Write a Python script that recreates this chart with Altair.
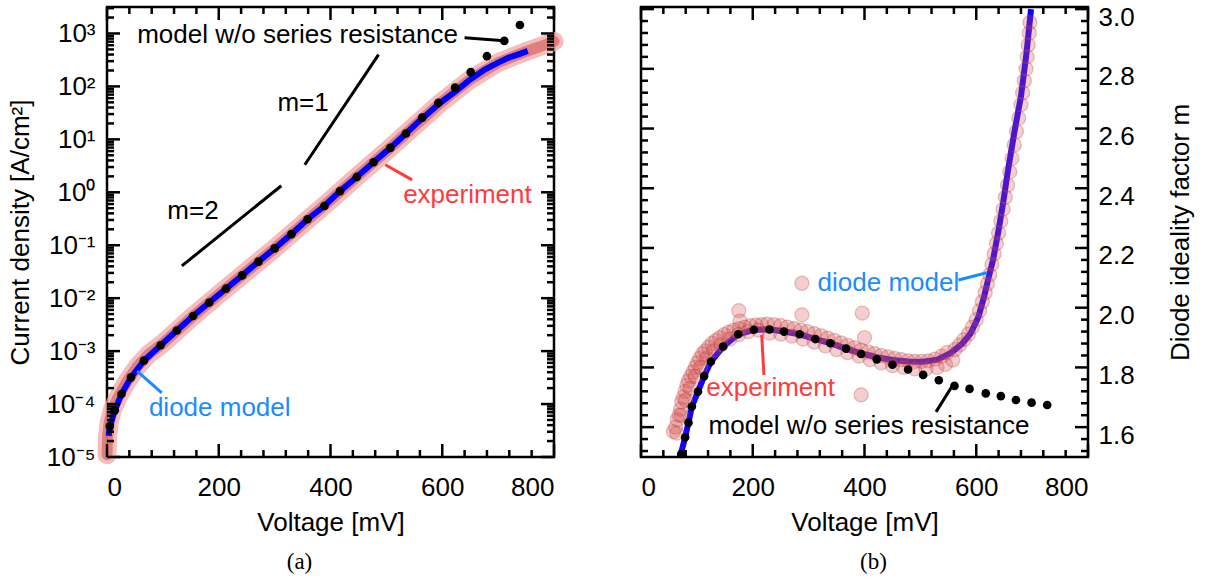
import altair as alt
import pandas as pd

# ---------------- panel (a): J-V curve ----------------
a_dot_v = [5, 14, 26, 43, 66, 96, 125, 154, 183, 213, 242, 271, 300, 330, 359, 389, 417,
           447, 477, 507, 535, 564, 593, 623, 651, 680, 711, 739]
a_dot_j = [3.8e-5, 7.6e-5, 1.55e-4, 3.2e-4, 6.6e-4, 1.29e-3, 2.45e-3, 4.6e-3, 8.3e-3,
           1.51e-2, 2.7e-2, 4.9e-2, 8.7e-2, 0.162, 0.31, 0.55, 1.05, 1.95, 3.7, 6.9, 12.9,
           25.7, 49, 95, 186, 372, 724, 1445]

a_model_v = [3, 5, 14, 26, 43, 66, 96, 125, 154, 183, 213, 242, 271, 300, 330, 359, 389,
             417, 447, 477, 507, 535, 557, 580, 600, 622, 650, 676, 700, 718, 740, 753]
a_model_j = [2.5e-5, 3.8e-5, 7.6e-5, 1.55e-4, 3.2e-4, 6.6e-4, 1.29e-3, 2.45e-3, 4.6e-3,
             8.3e-3, 1.51e-2, 2.7e-2, 4.9e-2, 8.7e-2, 0.162, 0.31, 0.55, 1.05, 1.95, 3.7,
             6.9, 12.9, 21.4, 34.7, 52.5, 77.6, 135, 209, 282, 347, 417, 468]

a_exp_v = [0, 1, 4, 10, 20, 35, 55, 75, 100, 150, 200, 250, 300, 350, 400, 450, 500,
           550, 600, 650, 700, 750, 780, 800]
a_exp_j = [1.1e-5, 2.4e-5, 4.6e-5, 8.0e-5, 1.35e-4, 2.6e-4, 5.2e-4, 8.8e-4, 1.4e-3,
           4.2e-3, 1.17e-2, 3.2e-2, 8.7e-2, 0.25, 0.71, 2.1, 6.0, 17.8, 52, 135, 282,
           457, 590, 708]

# ---------------- panel (b): ideality factor ----------------
b_dot_v = [72, 79, 85, 91, 102, 113, 125, 147, 174, 202, 230, 256, 284, 312, 339, 367,
           394, 422, 450, 478, 505, 533, 561, 588, 617, 644, 671, 699, 727]
b_dot_m = [1.51, 1.566, 1.615, 1.669, 1.719, 1.771, 1.819, 1.87, 1.911, 1.926, 1.927,
           1.92, 1.911, 1.895, 1.881, 1.863, 1.845, 1.827, 1.809, 1.793, 1.775, 1.757,
           1.738, 1.728, 1.713, 1.704, 1.691, 1.682, 1.674]

b_model_v = [70, 79, 85, 91, 102, 113, 125, 147, 174, 202, 230, 256, 284, 312, 339, 367,
             394, 422, 450, 478, 505, 530, 554, 575, 590, 604, 614, 622, 630, 640, 648,
             656, 668, 680, 690, 698]
b_model_m = [1.50, 1.566, 1.615, 1.669, 1.719, 1.771, 1.819, 1.87, 1.911, 1.926, 1.928,
             1.92, 1.911, 1.895, 1.881, 1.863, 1.847, 1.834, 1.825, 1.82, 1.819, 1.826,
             1.848, 1.88, 1.914, 1.97, 2.037, 2.10, 2.16, 2.26, 2.35, 2.45, 2.585, 2.707,
             2.853, 3.0]

b_exp_v = [58, 62, 65, 68, 71, 73, 76, 79, 82, 85, 89, 93, 97, 101, 105, 110, 115, 121,
           127, 134, 141, 149, 157, 166, 176, 186, 196, 206, 216,
           64, 72, 80, 88, 97, 107, 118, 130, 143, 159, 175, 192, 210,
           226, 238, 250, 262, 274, 286, 298, 310, 322, 334, 346, 358, 370, 382, 394, 406,
           418, 430, 442, 454, 466, 478, 490, 502, 514, 526, 538, 548,
           230, 250, 270, 290, 310, 330, 350, 370, 390, 410, 430, 450, 470, 490, 510, 530,
           545, 558,
           562, 570, 578, 586, 593, 600, 606, 611, 616, 620, 624, 628, 632, 636, 640, 644,
           648, 652, 656, 660, 664, 668, 672, 676, 680, 683, 686, 689, 691, 693, 695, 696,
           175, 177, 288, 288, 396, 394, 400]
b_exp_m = [1.585, 1.60, 1.625, 1.64, 1.66, 1.685, 1.70, 1.72, 1.74, 1.755, 1.77, 1.785,
           1.80, 1.815, 1.83, 1.845, 1.855, 1.868, 1.88, 1.89, 1.90, 1.91, 1.918, 1.925,
           1.93, 1.935, 1.94, 1.942, 1.943,
           1.58, 1.64, 1.69, 1.73, 1.77, 1.80, 1.83, 1.855, 1.875, 1.895, 1.91, 1.92, 1.925,
           1.945, 1.943, 1.94, 1.935, 1.93, 1.925, 1.92, 1.913, 1.906, 1.898, 1.89, 1.882,
           1.874, 1.866, 1.858, 1.852, 1.846, 1.84, 1.835, 1.83, 1.826, 1.822, 1.82, 1.82,
           1.822, 1.828, 1.838, 1.85,
           1.915, 1.912, 1.905, 1.895, 1.885, 1.872, 1.86, 1.85, 1.838, 1.826, 1.815, 1.806,
           1.80, 1.795, 1.795, 1.80, 1.81, 1.825,
           1.86, 1.875, 1.893, 1.912, 1.935, 1.96, 1.99, 2.02, 2.05, 2.08, 2.11, 2.145,
           2.18, 2.215, 2.25, 2.29, 2.33, 2.37, 2.41, 2.455, 2.50, 2.545, 2.59, 2.635,
           2.68, 2.72, 2.76, 2.80, 2.84, 2.88, 2.92, 2.955,
           1.99, 1.955, 2.082, 1.976, 1.982, 1.708, 1.90]

# ---------------- axis ticks ----------------
volt_major = [0, 200, 400, 600, 800]
volt_minor = [v for v in range(40, 800, 40) if v % 200 != 0]
j_major = [1e-5, 1e-4, 1e-3, 1e-2, 1e-1, 1, 10, 100, 1000]
j_minor = [k * 10.0 ** e for e in range(-5, 4) for k in range(2, 10) if k * 10.0 ** e < 3162]
m_major = [1.6, 1.8, 2.0, 2.2, 2.4, 2.6, 2.8, 3.0]
m_minor = [1.52, 1.56, 1.64, 1.68, 1.72, 1.76, 1.84, 1.88, 1.92, 1.96, 2.04, 2.08, 2.12,
           2.16, 2.24, 2.28, 2.32, 2.36, 2.44, 2.48, 2.52, 2.56, 2.64, 2.68, 2.72, 2.76,
           2.84, 2.88, 2.92, 2.96]
j_labels = ["10⁻⁵", "10⁻⁴", "10⁻³", "10⁻²", "10⁻¹", "10⁰", "10¹", "10²", "10³"]

W, H = 447, 450
FONT = "Liberation Sans"
FS = 26
TXT = 26
BLUE_TXT = "#1a8cff"
RED_TXT = "#ff3b3b"

xs_a = alt.Scale(domain=[0, 800], nice=False, zero=False)
ys_a = alt.Scale(type="log", domain=[1e-5, 3162], nice=False)
xs_b = alt.Scale(domain=[0, 800], nice=False, zero=False)
ys_b = alt.Scale(domain=[1.5, 3.007], nice=False, zero=False)

label_expr = "[" + ",".join("'%s'" % s for s in j_labels) + "][round(log(datum.value)/LN10)+5]"

ax_xa = alt.Axis(values=volt_major, ticks=False, domain=False, grid=False, labelPadding=17,
                 labelFontSize=FS, labelFont=FONT, title="Voltage [mV]", titleFontSize=FS,
                 titleFont=FONT, titleFontWeight="normal", titlePadding=9, format="d")
ax_ya = alt.Axis(values=j_major, ticks=False, domain=False, grid=False, labelPadding=12,
                 labelFontSize=FS, labelFont=FONT, labelExpr=label_expr,
                 title="Current density [A/cm²]", titleFontSize=FS, titleFont=FONT,
                 titleFontWeight="normal", titlePadding=12)
ax_xb = alt.Axis(values=volt_major, ticks=False, domain=False, grid=False, labelPadding=17,
                 labelFontSize=FS, labelFont=FONT, title="Voltage [mV]", titleFontSize=FS,
                 titleFont=FONT, titleFontWeight="normal", titlePadding=9, format="d")
ax_yb = alt.Axis(values=m_major, orient="right", ticks=False, domain=False, grid=False,
                 labelPadding=10, labelFontSize=FS, labelFont=FONT, format=".1f",
                 labelOffset=8,
                 title="Diode ideality factor m", titleFontSize=FS, titleFont=FONT,
                 titleFontWeight="normal", titleAngle=270, titleX=92, titleY=H / 2,
                 titleBaseline="middle", titleAlign="center")


def X(field, sc, ax):
    return alt.X(field, type="quantitative", scale=sc, axis=ax)


def Y(field, sc, ax):
    return alt.Y(field, type="quantitative", scale=sc, axis=ax)


def tick_layers(xvals_major, xvals_minor, yvals_major, yvals_minor, xsc, ysc, xax, yax, xf, yf):
    layers = []
    for vals, ln in ((xvals_major, 13), (xvals_minor, 7)):
        df = pd.DataFrame({xf: vals})
        base = alt.Chart(df).mark_rule(color="black", strokeWidth=2.5)
        layers.append(base.encode(x=X(xf, xsc, xax), y=alt.value(H), y2=alt.value(H - ln)))
        layers.append(base.encode(x=X(xf, xsc, xax), y=alt.value(0), y2=alt.value(ln)))
    for vals, ln in ((yvals_major, 13), (yvals_minor, 7)):
        df = pd.DataFrame({yf: vals})
        base = alt.Chart(df).mark_rule(color="black", strokeWidth=2.5)
        layers.append(base.encode(y=Y(yf, ysc, yax), x=alt.value(0), x2=alt.value(ln)))
        layers.append(base.encode(y=Y(yf, ysc, yax), x=alt.value(W), x2=alt.value(W - ln)))
    return layers


def label(txt, v, val, color, xsc, ysc, xax, yax, yf):
    df = pd.DataFrame({"V": [v], yf: [val], "t": [txt]})
    return alt.Chart(df).mark_text(align="left", baseline="middle", fontSize=TXT, font=FONT,
                                   color=color).encode(x=X("V", xsc, xax), y=Y(yf, ysc, yax),
                                                       text="t:N")


def seg(v1, y1, v2, y2, color, xsc, ysc, xax, yax, yf, w=3):
    df = pd.DataFrame({"V": [v1], yf: [y1], "V2": [v2], "Y2": [y2]})
    return alt.Chart(df).mark_rule(color=color, strokeWidth=w).encode(
        x=X("V", xsc, xax), y=Y(yf, ysc, yax), x2="V2", y2="Y2")


# ---------- panel (a) ----------
exp_a = pd.DataFrame({"V": a_exp_v, "J": a_exp_j})
mod_a = pd.DataFrame({"V": a_model_v, "J": a_model_j})
dot_a = pd.DataFrame({"V": a_dot_v, "J": a_dot_j})

enc_a = dict(x=X("V", xs_a, ax_xa), y=Y("J", ys_a, ax_ya))
band_outer = alt.Chart(exp_a).mark_line(color="#f0a8a8", strokeWidth=19, opacity=0.75,
                                        strokeCap="round", strokeJoin="round").encode(**enc_a)
band_inner = alt.Chart(exp_a).mark_line(color="#d86464", strokeWidth=11, opacity=0.7,
                                        strokeCap="round", strokeJoin="round").encode(**enc_a)
line_a = alt.Chart(mod_a).mark_line(color="#0000ff", strokeWidth=6).encode(**enc_a)
dots_a = alt.Chart(dot_a).mark_circle(color="black", size=75, opacity=1).encode(**enc_a)

ann_a = [
    label("model w/o series resistance", 54, 950, "black", xs_a, ys_a, ax_xa, ax_ya, "J"),
    seg(640, 830, 705, 740, "black", xs_a, ys_a, ax_xa, ax_ya, "J"),
    label("m=1", 305, 49, "black", xs_a, ys_a, ax_xa, ax_ya, "J"),
    label("m=2", 108, 0.45, "black", xs_a, ys_a, ax_xa, ax_ya, "J"),
    seg(354, 3.31, 486, 398, "black", xs_a, ys_a, ax_xa, ax_ya, "J"),
    seg(134, 0.0407, 312, 1.33, "black", xs_a, ys_a, ax_xa, ax_ya, "J"),
    label("experiment", 530, 0.9, RED_TXT, xs_a, ys_a, ax_xa, ax_ya, "J"),
    seg(498, 3.31, 546, 1.72, RED_TXT, xs_a, ys_a, ax_xa, ax_ya, "J"),
    label("diode model", 75, 8.4e-5, BLUE_TXT, xs_a, ys_a, ax_xa, ax_ya, "J"),
    seg(54, 4.2e-4, 98, 1.62e-4, BLUE_TXT, xs_a, ys_a, ax_xa, ax_ya, "J"),
]

panel_a = alt.layer(
    band_outer, band_inner, line_a, dots_a, *ann_a,
    *tick_layers(volt_major, volt_minor, j_major, j_minor, xs_a, ys_a, ax_xa, ax_ya, "V", "J")
).properties(width=W, height=H,
             title=alt.TitleParams("(a)", orient="bottom", anchor="middle",
                                   font="Liberation Serif", fontSize=23, fontWeight="normal",
                                   offset=16, dx=-31))

# ---------- panel (b) ----------
exp_b = pd.DataFrame({"V": b_exp_v, "m": b_exp_m})
mod_b = pd.DataFrame({"V": b_model_v, "m": b_model_m})
dot_b = pd.DataFrame({"V": b_dot_v, "m": b_dot_m})
enc_b = dict(x=X("V", xs_b, ax_xb), y=Y("m", ys_b, ax_yb))

line_b = alt.Chart(mod_b).mark_line(color="#1400ff", strokeWidth=6).encode(**enc_b)
circ_b = alt.Chart(exp_b).mark_point(shape="circle", filled=True, size=200, fill="#d85050",
                                     fillOpacity=0.28, stroke="#b04040", strokeOpacity=0.3,
                                     strokeWidth=1.2).encode(**enc_b)
dots_b = alt.Chart(dot_b).mark_circle(color="black", size=75, opacity=1).encode(**enc_b)

ann_b = [
    label("diode model", 316, 2.083, BLUE_TXT, xs_b, ys_b, ax_xb, ax_yb, "m"),
    seg(568, 2.093, 619, 2.117, BLUE_TXT, xs_b, ys_b, ax_xb, ax_yb, "m"),
    label("experiment", 117, 1.731, RED_TXT, xs_b, ys_b, ax_xb, ax_yb, "m"),
    seg(216, 1.909, 220, 1.775, RED_TXT, xs_b, ys_b, ax_xb, ax_yb, "m"),
    label("model w/o series resistance", 121, 1.604, "black", xs_b, ys_b, ax_xb, ax_yb, "m"),
    seg(528, 1.651, 557, 1.738, "black", xs_b, ys_b, ax_xb, ax_yb, "m"),
]

panel_b = alt.layer(
    line_b, circ_b, dots_b, *ann_b,
    *tick_layers(volt_major, volt_minor, m_major, m_minor, xs_b, ys_b, ax_xb, ax_yb, "V", "m")
).properties(width=W, height=H,
             title=alt.TitleParams("(b)", orient="bottom", anchor="middle",
                                   font="Liberation Serif", fontSize=23, fontWeight="normal",
                                   offset=16, dx=9))

chart = alt.hconcat(panel_a, panel_b, spacing=87, bounds="flush").properties(
    padding={"left": 6, "top": -5, "right": 5, "bottom": 5}
).configure(
    font=FONT, background="white",
    view=alt.ViewConfig(stroke="black", strokeWidth=2.5)
)

chart.save("out.html", embed_options={"renderer": "svg", "actions": False})
